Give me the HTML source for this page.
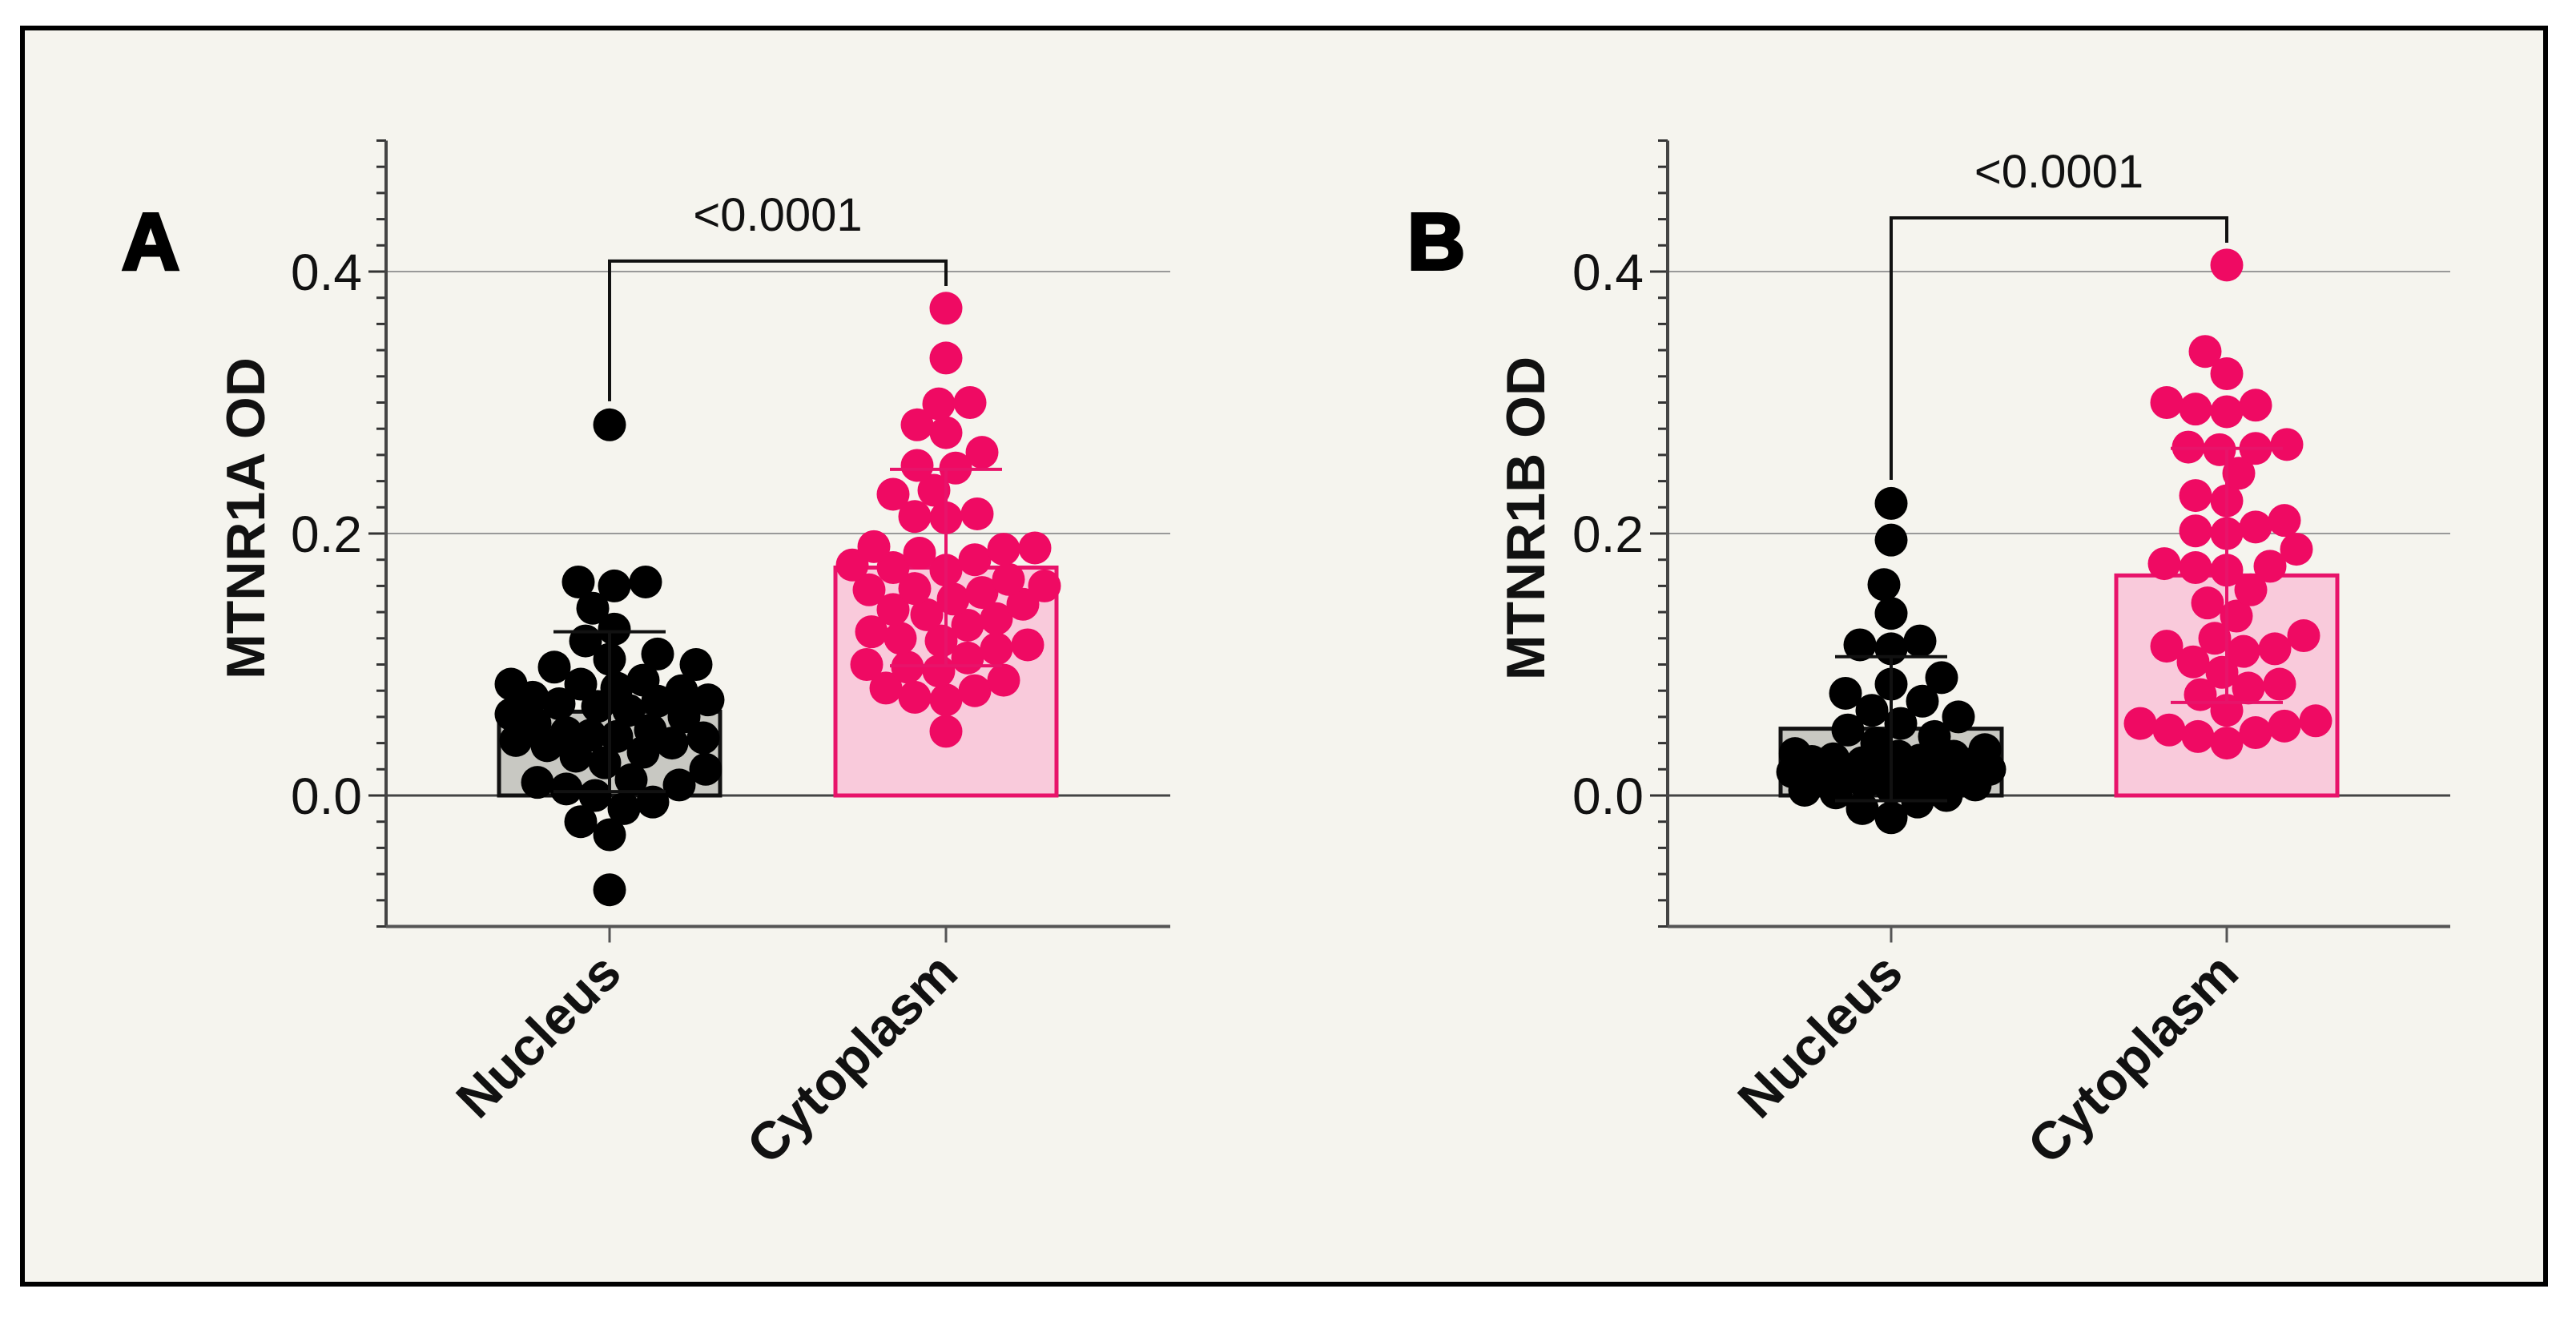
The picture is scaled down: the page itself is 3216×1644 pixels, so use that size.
<!DOCTYPE html>
<html><head><meta charset="utf-8">
<style>
html,body{margin:0;padding:0;background:#fff;}
svg{display:block;font-family:"Liberation Sans",Arial,sans-serif;}
</style></head>
<body>
<svg id="fig" width="3216" height="1644" viewBox="0 0 3216 1644" xmlns="http://www.w3.org/2000/svg">
<rect x="0" y="0" width="3216" height="1644" fill="#ffffff"/>
<rect x="28" y="35" width="3150" height="1568" fill="#f5f4ee" stroke="#000" stroke-width="6"/>
<g id="panelA"></g>
<g id="panelB"></g>
</svg>
<script>
const categories = ["Nucleus", "Cytoplasm"];
const yTicks = [0.0, 0.2, 0.4];
const yTickLabels = ["0.0", "0.2", "0.4"];
const pLabelA = "<0.0001";
const pLabelB = "<0.0001";

const aNucleus = [0.283,0.163,0.163,0.160,0.143,0.127,0.118,0.108,0.104,0.100,0.098,0.088,0.085,0.085,0.082,0.080,0.075,0.073,0.072,0.070,0.068,0.065,0.062,0.060,0.055,0.050,0.048,0.046,0.045,0.044,0.042,0.040,0.038,0.033,0.030,0.025,0.020,0.012,0.010,0.008,0.005,0.000,-0.005,-0.010,-0.020,-0.030,-0.072];
const aCytoplasm = [0.372,0.334,0.300,0.299,0.283,0.277,0.262,0.252,0.250,0.233,0.230,0.215,0.213,0.212,0.190,0.189,0.188,0.185,0.180,0.176,0.174,0.172,0.165,0.160,0.158,0.157,0.155,0.150,0.146,0.142,0.138,0.135,0.130,0.125,0.120,0.118,0.115,0.112,0.105,0.100,0.098,0.095,0.088,0.082,0.080,0.075,0.073,0.049];
const aMeans = [0.064, 0.174];
const aSD = [0.061, 0.075];

const bNucleus = [0.223,0.195,0.161,0.139,0.118,0.115,0.112,0.090,0.085,0.078,0.072,0.065,0.060,0.055,0.050,0.045,0.040,0.035,0.032,0.030,0.030,0.028,0.027,0.026,0.025,0.024,0.022,0.020,0.020,0.018,0.016,0.015,0.014,0.012,0.010,0.010,0.008,0.006,0.004,0.002,0.000,-0.005,-0.010,-0.017];
const bCytoplasm = [0.405,0.339,0.322,0.300,0.298,0.295,0.293,0.268,0.266,0.265,0.264,0.246,0.229,0.225,0.210,0.205,0.202,0.200,0.188,0.177,0.175,0.174,0.172,0.157,0.147,0.137,0.122,0.120,0.114,0.112,0.110,0.102,0.094,0.085,0.082,0.077,0.065,0.057,0.055,0.053,0.050,0.048,0.045,0.040];
const bMeans = [0.051, 0.168];
const bSD = [0.055, 0.097];

const NS = "http://www.w3.org/2000/svg";
function mk(parent, tag, attrs, text){
  const el = document.createElementNS(NS, tag);
  for (const k in attrs) el.setAttribute(k, attrs[k]);
  if (text !== undefined) el.textContent = text;
  parent.appendChild(el);
  return el;
}

function drawPanel(g, cfg){
  const Y0 = 993, PX = 1635;
  const y = v => Y0 - v * PX;
  const ax = cfg.axisX, xr = cfg.rightX;
  const cx = [cfg.c0, cfg.c1];
  const barW = 276, R = 20.5;
  const maxOff = barW / 2 - R + 8;
  const fills = ["#c8c8c2", "#f9cadb"], strokes = ["#111", "#e8136a"], dots = ["#000", "#ef0a63"];

  yTicks.forEach((t, i) => {
    const gl = mk(g, "line", {x1: ax, x2: xr, y1: y(t), y2: y(t), stroke: t === 0 ? "#444" : "#999", "stroke-width": t === 0 ? 3 : 2});
    
    
  });
  for (let k = -5; k <= 25; k++) {
    const v = k * 0.02;
    const major = (k % 10 === 0);
    const tk = mk(g, "line", {x1: ax - (major ? 22 : 12), x2: ax, y1: y(v), y2: y(v), stroke: "#333", "stroke-width": 3});
    
    
  }
  yTicks.forEach((t, i) => {
    const tl = mk(g, "text", {x: ax - 30, y: y(t) + 23, "text-anchor": "end", "font-size": 64, fill: "#111"}, yTickLabels[i]);
    
    
  });
  const ya = mk(g, "line", {x1: ax, x2: ax, y1: y(0.5), y2: y(-0.1), stroke: "#444", "stroke-width": 4});
  
  
  const xa = mk(g, "line", {x1: ax, x2: xr, y1: y(-0.1), y2: y(-0.1), stroke: "#555", "stroke-width": 4});
  
  

  const series = [cfg.s0, cfg.s1];
  series.forEach((vals, i) => {
    const m = cfg.means[i], sd = cfg.sd[i];
    const bar = mk(g, "rect", {x: cx[i] - barW/2, y: y(m), width: barW, height: y(0) - y(m), fill: fills[i], stroke: strokes[i], "stroke-width": 5});
    
    
    const placed = [];
    const sorted = vals.slice().sort((a, b) => a - b);
    const minD = 2 * R * 0.9;
    sorted.forEach(v => {
      const py = y(v);
      let best = 0, bestScore = -1, found = false;
      for (let s = 0; s < 400; s++) {
        const cand = (s % 2 === 0 ? 1 : -1) * Math.ceil(s / 2) * 3;
        if (Math.abs(cand) > maxOff) break;
        let md = Infinity;
        placed.forEach(p => { md = Math.min(md, Math.hypot(p[0] - cand, p[1] - py)); });
        if (md >= minD) { best = cand; found = true; break; }
        if (md > bestScore) { bestScore = md; best = cand; }
      }
      placed.push([best, py]);
      const c = mk(g, "circle", {cx: cx[i] + best, cy: py, r: R, fill: dots[i]});
      
      
    });
    const ew = 140;
    const eb = mk(g, "path", {d: `M${cx[i]},${y(m - sd)}V${y(m + sd)}M${cx[i] - ew/2},${y(m + sd)}H${cx[i] + ew/2}M${cx[i] - ew/2},${y(m - sd)}H${cx[i] + ew/2}`, stroke: strokes[i], "stroke-width": 4, fill: "none"});
    
    
    const ct = mk(g, "line", {x1: cx[i], x2: cx[i], y1: y(-0.1), y2: y(-0.1) + 20, stroke: "#555", "stroke-width": 3});
    
    
    const lx = cx[i] + 18, ly = 1218;
    const lab = mk(g, "text", {x: lx, y: ly, "text-anchor": "end", "font-size": 66, "font-weight": "bold", fill: "#111", transform: `rotate(-45 ${lx} ${ly})`}, categories[i]);
    
    
  });

  const br = mk(g, "path", {d: `M${cx[0]},${y(cfg.brL)}V${y(cfg.brTop)}H${cx[1]}V${y(cfg.brR)}`, stroke: "#111", "stroke-width": 4, fill: "none"});
  
  
  const pt = mk(g, "text", {x: (cx[0] + cx[1]) / 2, y: y(cfg.brTop) - 38, "text-anchor": "middle", "font-size": 58, fill: "#111"}, cfg.pLabel);
  
  

  const yt = mk(g, "text", {x: cfg.titleX, y: 647, "text-anchor": "middle", "font-size": 68, "font-weight": "bold", fill: "#111", transform: `rotate(-90 ${cfg.titleX} 647)`, "dominant-baseline": "central"}, cfg.yTitle);
  
  
  const pl = mk(g, "text", {x: cfg.letterX, y: 336, "font-size": 100, "font-weight": "bold", fill: "#000", stroke: "#000", "stroke-width": 4}, cfg.letter);
  
  
}

drawPanel(document.getElementById("panelA"), {
  axisX: 482, rightX: 1461, c0: 761, c1: 1181, s0: aNucleus, s1: aCytoplasm, means: aMeans, sd: aSD,
  brTop: 0.408, brL: 0.301, brR: 0.389, pLabel: pLabelA, yTitle: "MTNR1A OD", titleX: 307, letter: "A", letterX: 152
});
drawPanel(document.getElementById("panelB"), {
  axisX: 2082, rightX: 3059, c0: 2361, c1: 2780, s0: bNucleus, s1: bCytoplasm, means: bMeans, sd: bSD,
  brTop: 0.441, brL: 0.241, brR: 0.422, pLabel: pLabelB, yTitle: "MTNR1B OD", titleX: 1905, letter: "B", letterX: 1757
});
</script>
</body></html>
